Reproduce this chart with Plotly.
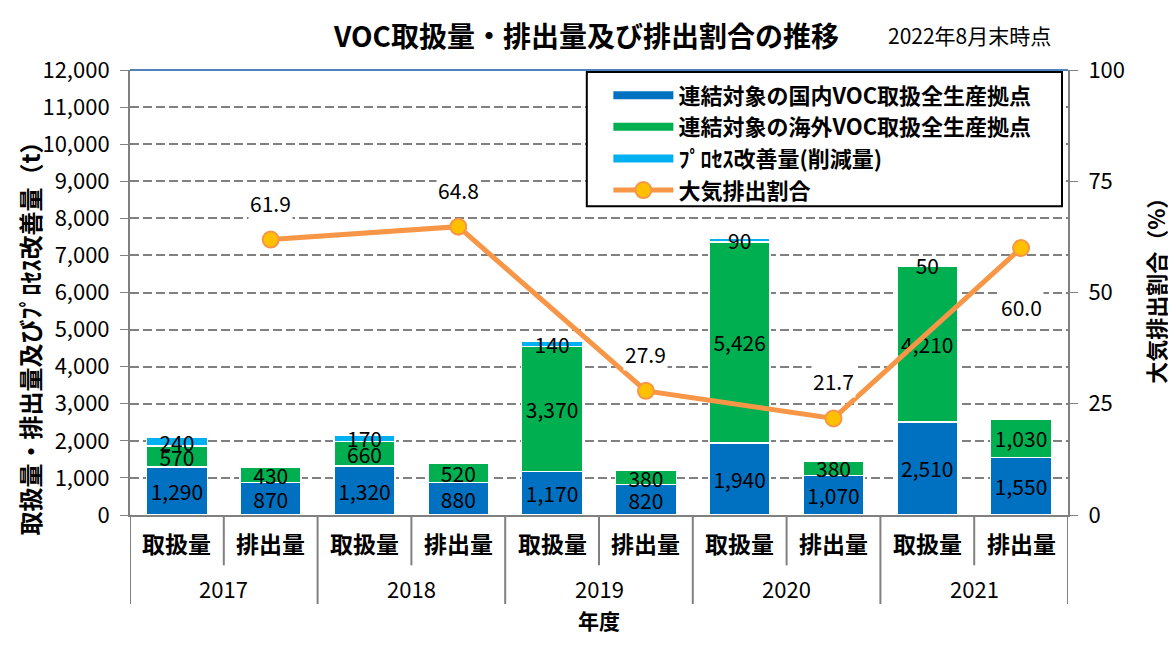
import plotly.graph_objects as go

years = ["2017", "2018", "2019", "2020", "2021"]
kinds = ["取扱量", "排出量"]

# 取扱量 / 排出量 per year (t)
domestic_handled = [1290, 1320, 1170, 1940, 2510]
domestic_emitted = [870, 880, 820, 1070, 1550]
overseas_handled = [570, 660, 3370, 5426, 4210]
overseas_emitted = [430, 520, 380, 380, 1030]
process_reduced = [240, 170, 140, 90, 50]
emission_ratio = [61.9, 64.8, 27.9, 21.7, 60.0]

FONT = "Noto Sans CJK JP"
BLUE, GREEN, LIGHT = "#0070C0", "#00B050", "#00B0F0"
ORANGE, GOLD, GREY = "#F79646", "#FFC000", "#808080"

# multicategory x: year / kind
x_outer = [y for y in years for _ in kinds]
x_inner = [k for _ in years for k in kinds]
x = [x_outer, x_inner]

domestic = [v for pair in zip(domestic_handled, domestic_emitted) for v in pair]
overseas = [v for pair in zip(overseas_handled, overseas_emitted) for v in pair]
process = [v for p in process_reduced for v in (p, None)]

names = ["連結対象の国内VOC取扱全生産拠点", "連結対象の海外VOC取扱全生産拠点", "ﾌﾟﾛｾｽ改善量(削減量)"]

fig = go.Figure()

bar_style = dict(textposition="inside", insidetextanchor="middle", textangle=0,
                 texttemplate="%{y:,}", textfont=dict(family=FONT, size=21, color="black"),
                 marker_line=dict(color="white", width=1.5), showlegend=False)

for vals, name, col in zip([domestic, overseas, process], names, [BLUE, GREEN, LIGHT]):
    fig.add_trace(go.Bar(x=x, y=vals, name=name, marker_color=col, **bar_style))

# legend entries drawn as thick lines (like the original)
for name, col in zip(names, [BLUE, GREEN, LIGHT]):
    fig.add_trace(go.Scatter(x=[None], y=[None], mode="lines", name=name,
                             line=dict(color=col, width=8)))

line_x = [years, ["排出量"] * len(years)]
fig.add_trace(go.Scatter(x=line_x, y=emission_ratio, yaxis="y2", name="大気排出割合",
                         mode="lines+markers",
                         line=dict(color=ORANGE, width=5),
                         marker=dict(color=GOLD, size=16, line=dict(color=ORANGE, width=2))))

# ratio labels
for i, v in enumerate(emission_ratio):
    above = i < len(emission_ratio) - 1
    fig.add_annotation(x=2 * i + 1, y=v, xref="x", yref="y2", text=f"{v:.1f}",
                       showarrow=False, bgcolor="white", yanchor="middle",
                       yshift=37 if above else -59,
                       font=dict(family=FONT, size=21, color="black"))

# category labels and dividers below the axis
for i, yr in enumerate(years):
    for j, k in enumerate(kinds):
        fig.add_annotation(x=2 * i + j, y=-0.064, xref="x", yref="paper", text=f"<b>{k}</b>",
                           showarrow=False, yanchor="middle",
                           font=dict(family=FONT, size=23, color="black"))
    fig.add_annotation(x=2 * i + 0.5, y=-0.165, xref="x", yref="paper", text=yr,
                       showarrow=False, yanchor="middle",
                       font=dict(family=FONT, size=22, color="black"))
    fig.add_shape(type="line", xref="x", yref="paper", x0=2 * i + 0.5, x1=2 * i + 0.5,
                  y0=0, y1=-0.113, line=dict(color=GREY, width=2))
for b in range(len(years) + 1):
    fig.add_shape(type="line", xref="x", yref="paper", x0=2 * b - 0.5, x1=2 * b - 0.5,
                  y0=0, y1=-0.2, line=dict(color=GREY, width=2))

# top border line
fig.add_shape(type="line", xref="paper", yref="paper", x0=0, x1=1, y0=1, y1=1,
              line=dict(color="#4F81BD", width=2))

# legend frame
fig.add_shape(type="rect", xref="paper", yref="paper", x0=0.487, x1=0.9936,
              y0=0.694, y1=0.9955, fillcolor="white", line=dict(color="black", width=2))

fig.add_annotation(text="<b>VOC取扱量・排出量及び排出割合の推移</b>", xref="paper", yref="paper",
                   x=0.486, y=1.079, showarrow=False, xanchor="center", yanchor="middle",
                   font=dict(family=FONT, size=28, color="black"))
fig.add_annotation(text="2022年8月末時点", xref="paper", yref="paper", x=0.895, y=1.079,
                   showarrow=False, xanchor="center", yanchor="middle",
                   font=dict(family=FONT, size=21, color="black"))
fig.add_annotation(text="<b>年度</b>", xref="paper", yref="paper", x=0.5, y=-0.236,
                   showarrow=False, xanchor="center", yanchor="middle",
                   font=dict(family=FONT, size=21, color="black"))
fig.add_annotation(text="<b>取扱量・排出量及びﾌﾟﾛｾｽ改善量（t）</b>", xref="paper", yref="paper",
                   x=-0.1066, y=0.41, textangle=-90, showarrow=False,
                   xanchor="center", yanchor="middle",
                   font=dict(family=FONT, size=24, color="black"))
fig.add_annotation(text="<b>大気排出割合（%）</b>", xref="paper", yref="paper",
                   x=1.0928, y=0.515, textangle=-90, showarrow=False,
                   xanchor="center", yanchor="middle",
                   font=dict(family=FONT, size=22, color="black"))

# the page adds an 8px body margin, so margins are offset by 8px
fig.update_layout(
    width=1176, height=649,
    margin=dict(l=122, r=116, t=62, b=142),
    paper_bgcolor="white", plot_bgcolor="white",
    font=dict(family=FONT, color="black"),
    barmode="stack", bargap=0.35,
    uniformtext=dict(minsize=21, mode="show"),
    legend=dict(x=0.51, y=0.99, xanchor="left", yanchor="top", traceorder="normal",
                bgcolor="rgba(0,0,0,0)", borderwidth=0,
                font=dict(family=FONT, size=22, color="black", weight="bold"),
                itemwidth=60, tracegroupgap=0),
    xaxis=dict(type="multicategory", showline=True, linecolor=GREY, linewidth=2,
               showticklabels=False, showdividers=False, automargin=False,
               range=[-0.5, 9.5]),
    yaxis=dict(range=[0, 12000], dtick=1000, tickformat=",", showline=True,
               linecolor=GREY, linewidth=2, ticks="outside", ticklen=8,
               tickcolor=GREY, gridcolor=GREY, griddash="9px,4px", gridwidth=2,
               zeroline=False, automargin=False, ticklabelstandoff=6,
               tickfont=dict(family=FONT, size=22, color="black")),
    yaxis2=dict(overlaying="y", side="right", range=[0, 100], dtick=25, showgrid=False,
                showline=True, linecolor=GREY, linewidth=2, ticks="outside",
                ticklen=8, tickcolor=GREY, zeroline=False, automargin=False,
                ticklabelstandoff=6,
                tickfont=dict(family=FONT, size=22, color="black")),
)

fig.write_html("out.html")
